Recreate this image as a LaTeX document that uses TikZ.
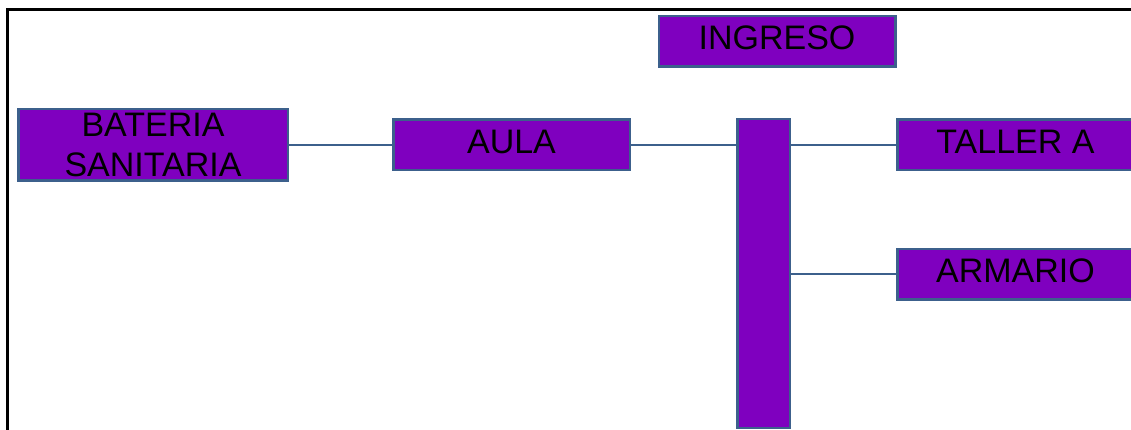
\documentclass[tikz,border=0pt]{standalone}
\usepackage{fontspec}
\setmainfont{Liberation Sans}
\usetikzlibrary{positioning}

\definecolor{roomfill}{RGB}{127,0,191}
\definecolor{roomedge}{RGB}{60,96,140}

\begin{document}
\begin{tikzpicture}[x=1pt,y=-1pt,
    room/.style={draw=roomedge,fill=roomfill,line width=2.5pt,inner sep=0pt,
        minimum width=236.5pt,minimum height=50.5pt,align=center,
        font=\fontsize{34}{40}\selectfont},
    oneline/.style={room,text height=25pt,text depth=8pt},
    link/.style={draw=roomedge,line width=2.5pt}]
    \useasboundingbox (0,0) rectangle (1131,430);

    % frame
    \draw[line width=3pt] (7.5,430) -- (7.5,10) -- (1131,10);

    \node[room, minimum width=269.5pt, minimum height=71.5pt] (bat) at (153,145) {BATERIA\\SANITARIA};
    \node[oneline] (aula) [right=103pt of bat] {AULA};
    \node[oneline] (taller) [right=265pt of aula] {TALLER A};
    \node[oneline] (armario) [below=76pt of taller] {ARMARIO};
    \node[oneline] (ingreso) at (777,41.5) {INGRESO};
    \node[room, minimum width=52.5pt, minimum height=308.5pt, anchor=north] (pasillo) at (763.5,118) {};

    \path[link] (bat) -- (aula);
    \path[link] (aula) -- (aula -| pasillo.west);
    \path[link] (taller.west -| pasillo.east) -- (taller);
    \path[link] (armario.west -| pasillo.east) -- (armario);
\end{tikzpicture}
\end{document}
